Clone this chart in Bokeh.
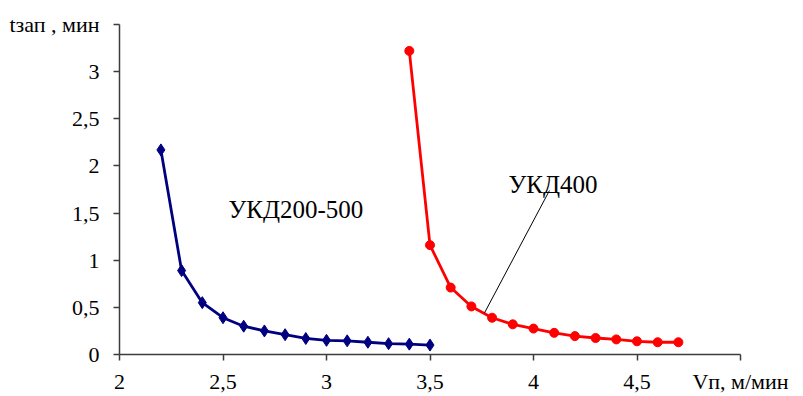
from bokeh.plotting import figure
from bokeh.models import Label, FixedTicker
from bokeh.embed import file_html
from bokeh.resources import INLINE

# --- data ---
v_ukd200 = [2.2, 2.3, 2.4, 2.5, 2.6, 2.7, 2.8, 2.9, 3.0, 3.1, 3.2, 3.3, 3.4, 3.5]
t_ukd200 = [2.17, 0.89, 0.55, 0.39, 0.30, 0.25, 0.21, 0.17, 0.15, 0.145, 0.13, 0.115, 0.11, 0.10]

v_ukd400 = [3.4, 3.5, 3.6, 3.7, 3.8, 3.9, 4.0, 4.1, 4.2, 4.3, 4.4, 4.5, 4.6, 4.7]
t_ukd400 = [3.22, 1.16, 0.71, 0.51, 0.39, 0.32, 0.275, 0.23, 0.195, 0.175, 0.16, 0.14, 0.13, 0.13]

# axis titles sit at the end ticks, as in the original chart
x_ticks = [2, 2.5, 3, 3.5, 4, 4.5, 5]
x_tick_labels = ["2", "2,5", "3", "3,5", "4", "4,5", "Vп, м/мин"]
y_ticks = [0, 0.5, 1, 1.5, 2, 2.5, 3, 3.5]
y_tick_labels = ["0", "0,5", "1", "1,5", "2", "2,5", "3", "tзап , мин"]

leader_x = [4.077, 3.763]
leader_y = [1.739, 0.44]

FONT = "Liberation Serif"

W, H = 803, 396
FL, FR, FT, FB = 119, 740, 24, 355   # frame edges in canvas pixels
p = figure(width=W, height=H, x_range=(2, 5), y_range=(0, 3.5),
           output_backend="svg", toolbar_location=None,
           min_border_left=FL, min_border_right=W - FR,
           min_border_top=FT, min_border_bottom=H - FB)
p.outline_line_color = None
p.grid.visible = False
p.background_fill_color = "white"

for ax, ticks, labels in ((p.xaxis[0], x_ticks, x_tick_labels), (p.yaxis[0], y_ticks, y_tick_labels)):
    ax.ticker = FixedTicker(ticks=ticks)
    ax.major_label_overrides = dict(zip(ticks, labels))
    ax.axis_line_color = "#3c3c3c"
    ax.axis_line_width = 1.5
    ax.major_tick_line_color = "#3c3c3c"
    ax.major_tick_line_width = 1.5
    ax.major_tick_out = 6
    ax.major_tick_in = 0
    ax.minor_tick_line_color = None
    ax.major_label_text_font = FONT
    ax.major_label_text_font_size = "22px"
    ax.major_label_text_color = "black"

p.xaxis.major_label_standoff = 8
p.yaxis.major_label_standoff = 14

p.line(v_ukd200, t_ukd200, line_color="#000080", line_width=2.8)
p.scatter(v_ukd200, t_ukd200, marker="diamond", size=12,
          fill_color="#000080", line_color="#000080")

p.line(v_ukd400, t_ukd400, line_color="#ff0000", line_width=2.8)
p.scatter(v_ukd400, t_ukd400, marker="circle", size=9,
          fill_color="#ff0000", line_color="#ff0000")

p.line(leader_x, leader_y, line_color="black", line_width=1)

def lab(x, y, text, size="25px", align="left"):
    # x, y: canvas pixels from top-left; converted to frame-relative screen units
    p.add_layout(Label(x=x - FL, y=FB - y, text=text, text_font=FONT, text_font_size=size,
                       text_color="black", text_align=align, text_baseline="alphabetic",
                       x_units="screen", y_units="screen"))

lab(228, 210, "УКД200-500")
lab(508, 185, "УКД400")

open("out.html", "w").write(file_html(p, INLINE))
